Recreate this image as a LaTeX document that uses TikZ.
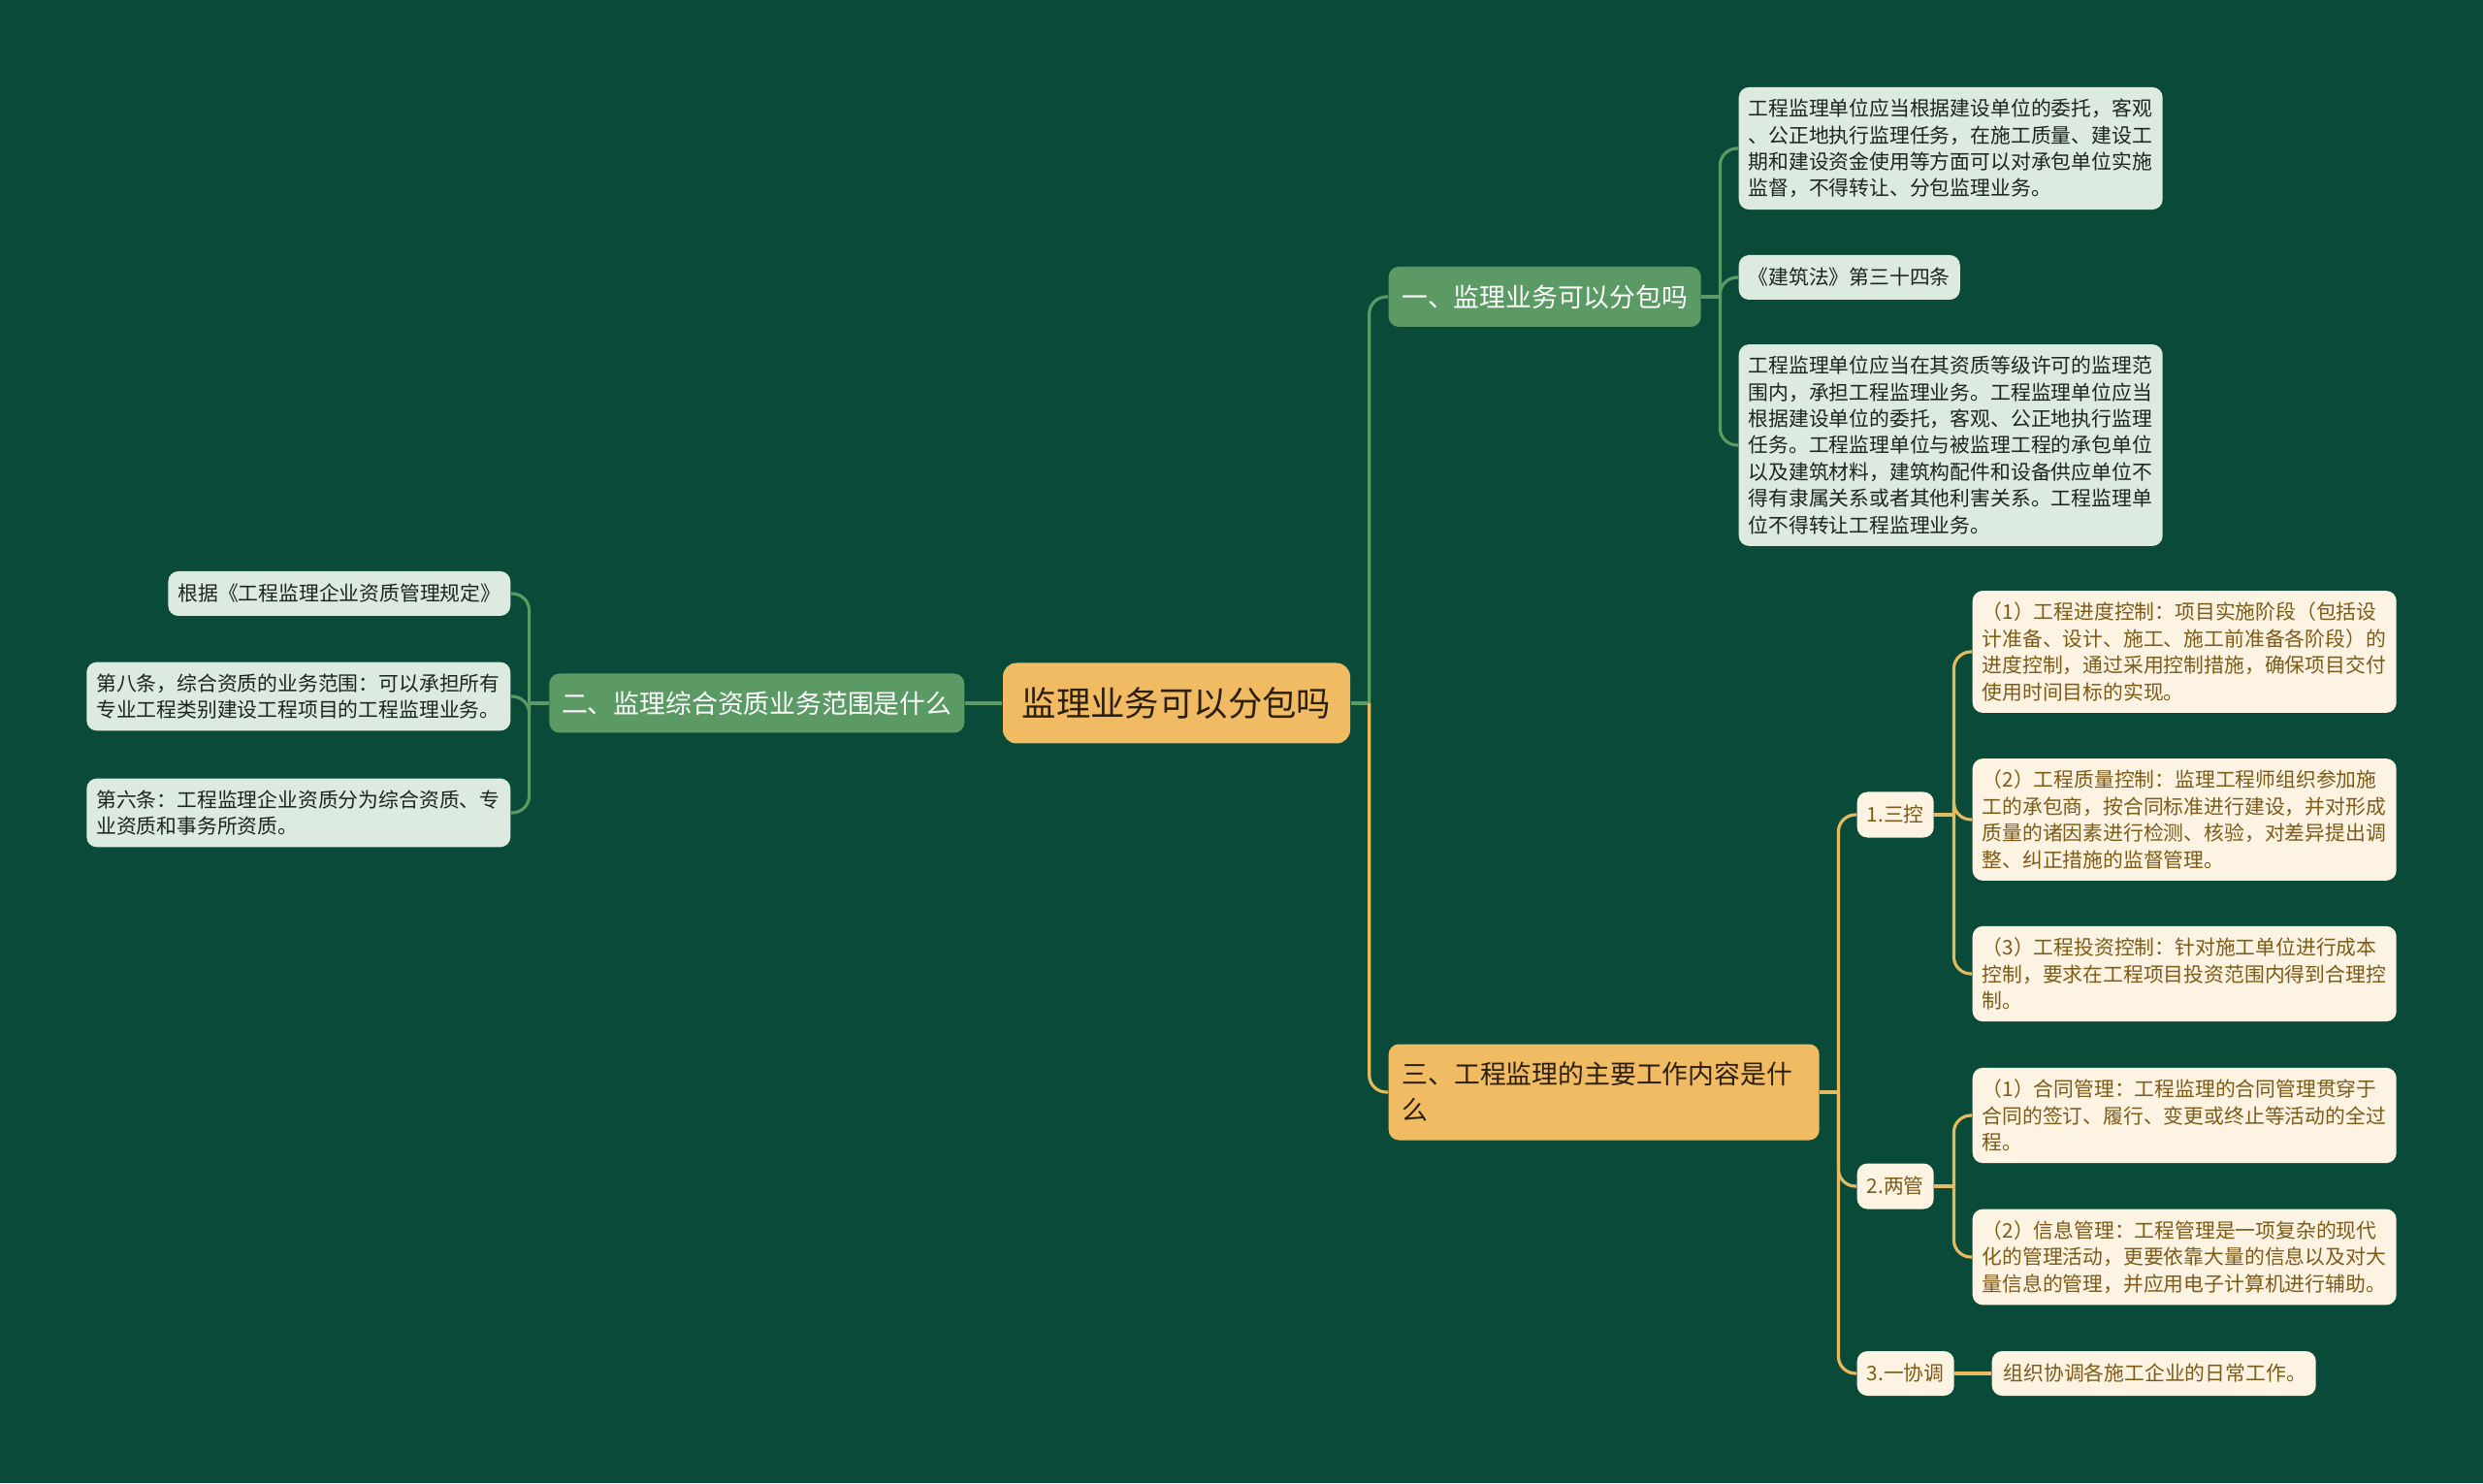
\documentclass[tikz,border=0pt]{standalone}
\usepackage{fontspec}
\setmainfont{Noto Sans CJK SC}
\usetikzlibrary{positioning}

\begin{document}
\begin{tikzpicture}

% ---------------------------------------------------------------- colours
\definecolor{bg}{HTML}{094A39}        % canvas
\definecolor{c1}{HTML}{F0BB62}        % root and the third topic
\definecolor{c2}{HTML}{5B9A64}        % green topics and their lines
\definecolor{c3}{HTML}{DDEADF}        % green leaves
\definecolor{c4}{HTML}{FDF3E2}        % cream leaves
\definecolor{c5}{HTML}{7B5B17}        % text on cream leaves
\definecolor{c6}{HTML}{E6BA5E}        % yellow lines
\definecolor{darktext}{HTML}{2B2010}
\definecolor{leaftext}{HTML}{1E241F}

\tikzset{
    rootbox/.style={rectangle, rounded corners=4pt, fill=c1, text=darktext,
                    font=\fontsize{10.07}{12}\selectfont, inner sep=0pt,
                    minimum width=3.58cm, minimum height=0.83cm},
    gtopic/.style={rectangle, rounded corners=3pt, fill=c2, text=white,
                   font=\fontsize{7.63}{10.5}\selectfont, inner sep=0pt,
                   minimum height=0.62cm},
    ytopic/.style={rectangle, rounded corners=3pt, fill=c1, text=darktext,
                   font=\fontsize{7.63}{10.5}\selectfont, align=left,
                   text width=4.16cm, inner xsep=0.14cm, minimum height=0.99cm},
    gleaf/.style={rectangle, rounded corners=3pt, fill=c3, text=leaftext,
                  font=\fontsize{5.92}{7.8}\selectfont, align=left,
                  inner xsep=0.1cm, inner ysep=0.12cm, minimum height=0.46cm},
    yleaf/.style={rectangle, rounded corners=3pt, fill=c4, text=c5,
                  font=\fontsize{5.92}{7.8}\selectfont, align=left,
                  inner xsep=0.1cm, inner ysep=0.12cm, minimum height=0.46cm},
    wide/.style={text width=4.17cm},
    gline/.style={draw=c2, line width=0.9pt, rounded corners=5pt},
    yline/.style={draw=c6, line width=0.9pt, rounded corners=5pt},
}

% ---------------------------------------------------------------- canvas
\fill[bg] (0, 0) rectangle (25.6, 15.29);
\useasboundingbox (0, 0) rectangle (25.6, 15.29);

% ---------------------------------------------------------------- root and topics
\node[rootbox] (root) at (12.13, 8.04) {监理业务可以分包吗};

\node[gtopic, minimum width=3.22cm, anchor=west] (b1) at (14.31, 12.23)
    {一、监理业务可以分包吗};
\node[gtopic, minimum width=4.28cm, minimum height=0.61cm, anchor=east] (b2)
    at (9.95, 8.04) {二、监理综合资质业务范围是什么};
\node[ytopic, anchor=west] (b3) at (14.31, 4.03)
    {三、工程监理的主要工作内容是什\\么};

% ---------------------------------------------------------------- topic one
\node[gleaf, wide, anchor=west] (g1) at (17.92, 13.76)
    {工程监理单位应当根据建设单位的委托，客观\\、公正地执行监理任务，在施工质量、建设工\\期和建设资金使用等方面可以对承包单位实施\\监督，不得转让、分包监理业务。};
\node[gleaf, anchor=west] (g2) at (17.92, 12.43) {《建筑法》第三十四条};
\node[gleaf, wide, anchor=west] (g3) at (17.92, 10.70)
    {工程监理单位应当在其资质等级许可的监理范\\围内，承担工程监理业务。工程监理单位应当\\根据建设单位的委托，客观、公正地执行监理\\任务。工程监理单位与被监理工程的承包单位\\以及建筑材料，建筑构配件和设备供应单位不\\得有隶属关系或者其他利害关系。工程监理单\\位不得转让工程监理业务。};

% ---------------------------------------------------------------- topic two
\node[gleaf, anchor=east] (l1) at (5.27, 9.17) {根据《工程监理企业资质管理规定》};
\node[gleaf, wide, anchor=east] (l2) at (5.27, 8.11)
    {第八条，综合资质的业务范围：可以承担所有\\专业工程类别建设工程项目的工程监理业务。};
\node[gleaf, wide, anchor=east] (l3) at (5.27, 6.91)
    {第六条：工程监理企业资质分为综合资质、专\\业资质和事务所资质。};

% ---------------------------------------------------------------- topic three
\node[yleaf, minimum width=0.79cm, minimum height=0.47cm, anchor=west] (s1)
    at (19.14, 6.89) {1.三控};
\node[yleaf, minimum width=0.79cm, minimum height=0.47cm, anchor=west] (s2)
    at (19.14, 3.06) {2.两管};
\node[yleaf, minimum width=1.00cm, anchor=west] (s3)
    at (19.14, 1.13) {3.一协调};

\node[yleaf, wide, anchor=west] (c1) at (20.33, 8.57)
    {（1）工程进度控制：项目实施阶段（包括设\\计准备、设计、施工、施工前准备各阶段）的\\进度控制，通过采用控制措施，确保项目交付\\使用时间目标的实现。};
\node[yleaf, wide, anchor=west] (c2) at (20.33, 6.84)
    {（2）工程质量控制：监理工程师组织参加施\\工的承包商，按合同标准进行建设，并对形成\\质量的诸因素进行检测、核验，对差异提出调\\整、纠正措施的监督管理。};
\node[yleaf, wide, anchor=west] (c3) at (20.33, 5.25)
    {（3）工程投资控制：针对施工单位进行成本\\控制，要求在工程项目投资范围内得到合理控\\制。};
\node[yleaf, wide, anchor=west] (c4) at (20.33, 3.79)
    {（1）合同管理：工程监理的合同管理贯穿于\\合同的签订、履行、变更或终止等活动的全过\\程。};
\node[yleaf, wide, anchor=west] (c5) at (20.33, 2.33)
    {（2）信息管理：工程管理是一项复杂的现代\\化的管理活动，更要依靠大量的信息以及对大\\量信息的管理，并应用电子计算机进行辅助。};
\node[yleaf, text width=3.10cm, inner xsep=0.12cm, anchor=west] (c6)
    at (20.53, 1.13) {组织协调各施工企业的日常工作。};

% ---------------------------------------------------------------- connectors
% root to topics
\draw[gline] (root.west) -- (b2.east);
\draw[gline] (root.east) -- ++(0.19, 0) coordinate (jr);
\draw[gline] (jr) |- (b1.west);
\draw[yline] (jr) |- (b3.west);

% topics to leaves
\draw[gline] (b1.east) -- ++(0.19, 0) coordinate (j1);
\foreach \c in {g1, g2, g3}
    \draw[gline] (j1) |- (\c.west);

\draw[gline] (b2.west) -- ++(-0.20, 0) coordinate (j2);
\foreach \c in {l1, l2, l3}
    \draw[gline] (j2) |- (\c.east);

\draw[yline] (b3.east) -- ++(0.19, 0) coordinate (j3);
\foreach \c in {s1, s2, s3}
    \draw[yline] (j3) |- (\c.west);

\draw[yline] (s1.east) -- ++(0.20, 0) coordinate (j4);
\foreach \c in {c1, c2, c3}
    \draw[yline] (j4) |- (\c.west);

\draw[yline] (s2.east) -- ++(0.20, 0) coordinate (j5);
\foreach \c in {c4, c5}
    \draw[yline] (j5) |- (\c.west);

\draw[yline] (s3.east) -- (c6.west);

\end{tikzpicture}
\end{document}
